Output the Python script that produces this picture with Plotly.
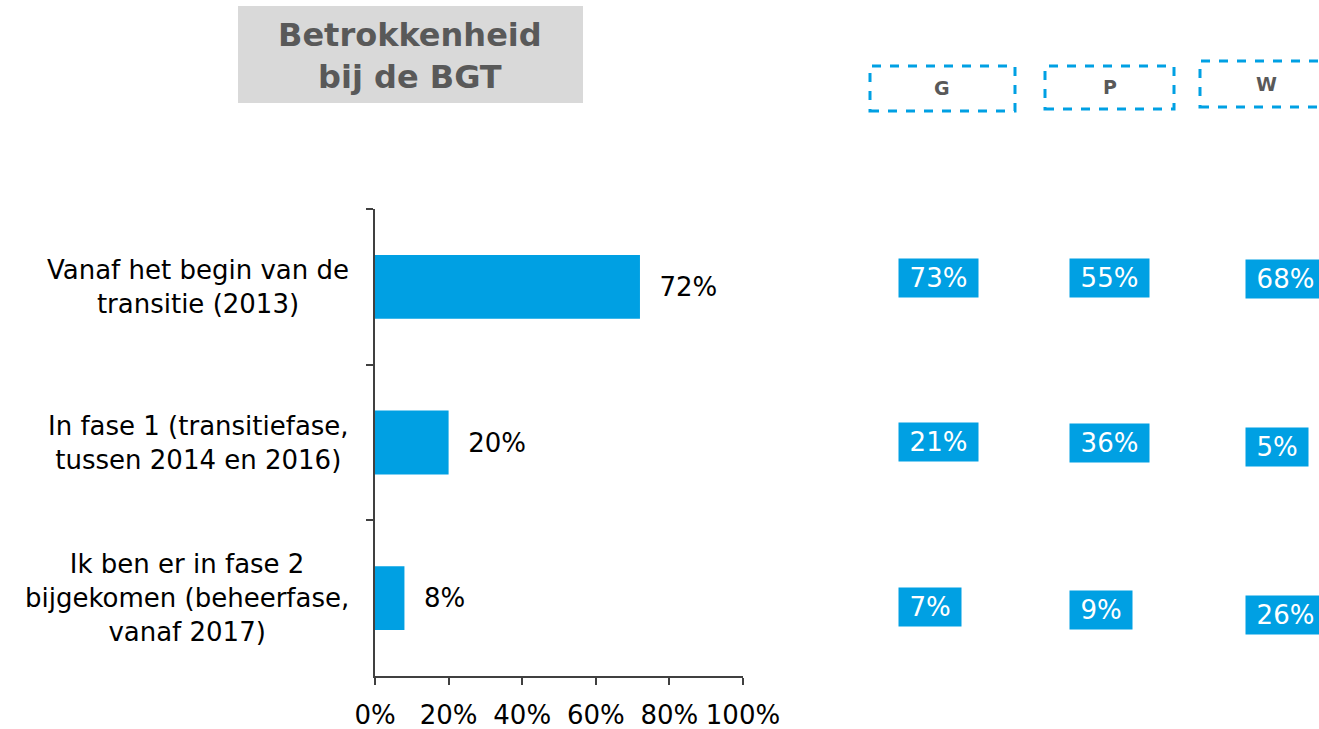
import plotly.graph_objects as go

# ---- data ----
categories = [
    "Vanaf het begin van de<br>transitie (2013)",
    "In fase 1 (transitiefase,<br>tussen 2014 en 2016)",
    "Ik ben er in fase 2<br>bijgekomen (beheerfase,<br>vanaf 2017)",
]
totaal = [0.72, 0.20, 0.08]
groups = ["G", "P", "W"]
group_values = {
    "G": [73, 21, 7],
    "P": [55, 36, 9],
    "W": [68, 5, 26],
}
x_ticks = [0, 0.2, 0.4, 0.6, 0.8, 1.0]
title_text = "Betrokkenheid<br>bij de BGT"

# ---- layout helpers ----
W, H = 1319, 729
L, R, T, B = 375, 743, 209, 676
BLUE = "#00A0E3"
FONT = "DejaVu Sans"
FS = 26


def px(x):
    return (x - L) / (R - L)


def py(y):
    return (B - y) / (B - T)


fig = go.Figure()
fig.add_trace(go.Bar(
    y=categories, x=totaal, orientation="h",
    marker=dict(color=BLUE, line=dict(width=0)),
    width=0.41,
    texttemplate="&nbsp;&nbsp;%{x:.0%}",
    textposition="outside",
    textfont=dict(family=FONT, size=FS, color="#000000"),
    cliponaxis=False,
    hoverinfo="skip",
))

annotations = []
shapes = []

# category labels (centered multi-line)
for c in categories:
    annotations.append(dict(
        xref="paper", yref="y", x=0, y=c, xshift=-24,
        xanchor="right", yanchor="middle", align="center",
        text=c, showarrow=False,
        font=dict(family=FONT, size=FS, color="#000000"),
    ))

# title box
shapes.append(dict(type="rect", xref="paper", yref="paper",
                   x0=px(238), x1=px(583), y0=py(103), y1=py(6),
                   fillcolor="#D9D9D9", line=dict(width=0), layer="below"))
annotations.append(dict(
    xref="paper", yref="paper", x=px(410), y=py(56),
    xanchor="center", yanchor="middle", align="center",
    text="<b>" + title_text + "</b>", showarrow=False,
    font=dict(family=FONT, size=32, color="#595959"),
))

# group header boxes
hdr_boxes = [(870, 66, 1015, 111), (1045, 66, 1174, 109), (1200, 61, 1335, 107)]
hdr_labels = [(942, 88), (1110, 87), (1266, 84)]
for g, (x0, y0, x1, y1), (lx, ly) in zip(groups, hdr_boxes, hdr_labels):
    shapes.append(dict(type="rect", xref="paper", yref="paper",
                       x0=px(x0), x1=px(x1), y0=py(y1), y1=py(y0),
                       line=dict(color=BLUE, width=3, dash="dash")))
    annotations.append(dict(
        xref="paper", yref="paper", x=px(lx), y=py(ly),
        xanchor="center", yanchor="middle",
        text="<b>" + g + "</b>", showarrow=False,
        font=dict(family=FONT, size=19, color="#595959"),
    ))

# group value boxes
col_left = [898, 1069, 1245]
row_y = {
    "G": [278, 442, 607],
    "P": [278, 443, 610],
    "W": [279, 447, 615],
}
for gi, g in enumerate(groups):
    for ri, v in enumerate(group_values[g]):
        txt = f"{v}%"
        annotations.append(dict(
            xref="paper", yref="paper", x=px(col_left[gi]), y=py(row_y[g][ri]),
            xanchor="left", yanchor="middle", align="center",
            text=txt, showarrow=False,
            width=71 if len(txt) >= 3 else 54,
            bgcolor=BLUE, borderpad=4,
            font=dict(family=FONT, size=FS, color="#FFFFFF"),
        ))

fig.update_layout(
    width=W, height=H,
    margin=dict(l=L, r=W - R, t=T, b=H - B, autoexpand=False),
    paper_bgcolor="white", plot_bgcolor="white",
    showlegend=False,
    bargap=0.59,
    xaxis=dict(
        range=[0, 1], tickvals=x_ticks, tickformat=".0%",
        showgrid=False, zeroline=False, automargin=False,
        showline=True, linecolor="#404040", linewidth=2,
        ticks="outside", ticklen=7, tickwidth=2, tickcolor="#404040",
        ticklabelstandoff=8,
        tickfont=dict(family=FONT, size=FS, color="#000000"),
        fixedrange=True,
    ),
    yaxis=dict(
        type="category", autorange="reversed", automargin=False,
        showticklabels=False, showgrid=False, zeroline=False,
        showline=True, linecolor="#404040", linewidth=2,
        ticks="outside", tickson="boundaries", ticklen=7, tickwidth=2,
        tickcolor="#404040", fixedrange=True,
    ),
    annotations=annotations,
    shapes=shapes,
)

fig.write_html(
    "out.html",
    config={"displayModeBar": False},
    post_script="document.body.style.margin='0';document.body.style.overflow='hidden';",
)
